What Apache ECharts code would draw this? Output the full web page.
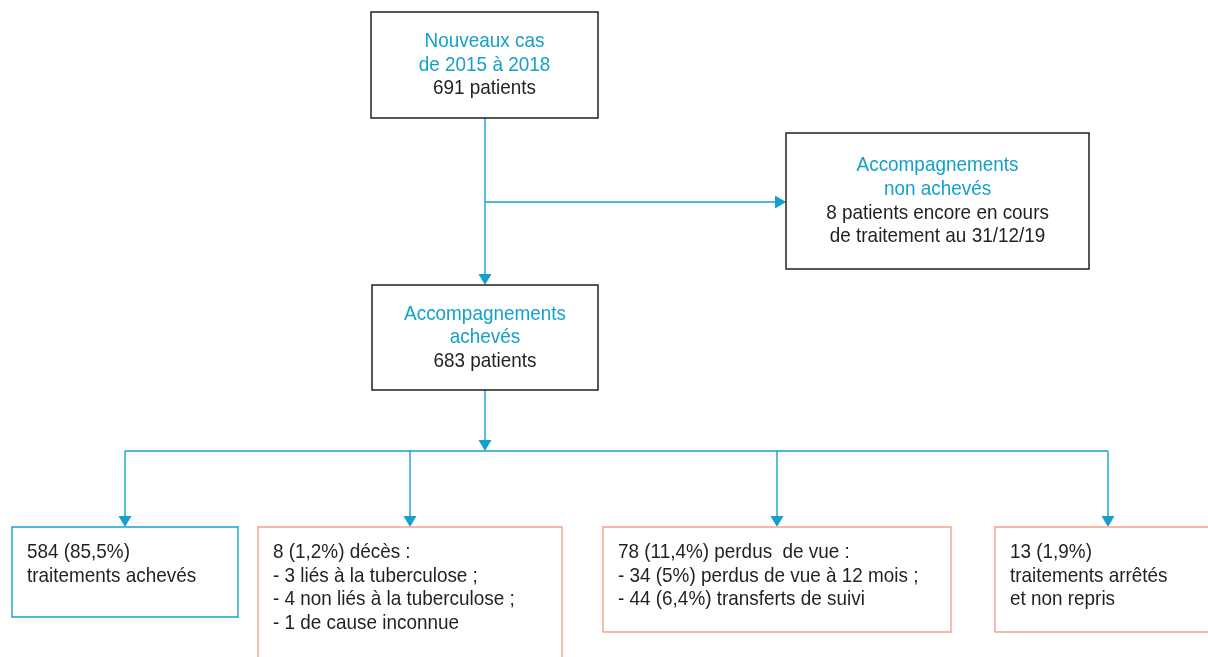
<!DOCTYPE html>
<html>
<head>
<meta charset="utf-8">
<script src="https://cdn.jsdelivr.net/npm/echarts@6/dist/echarts.min.js"></script>
<style>html,body{margin:0;padding:0;background:#fff}#c{width:1208px;height:657px}</style>
</head>
<body>
<div id="c"></div>
<script>
// ---- data ----
const nodeIds = ['nouveaux', 'nonAcheves', 'acheves', 'traites', 'deces', 'perdus', 'arretes'];
const nodeHeadings = [
  ['Nouveaux cas', 'de 2015 à 2018'],
  ['Accompagnements', 'non achevés'],
  ['Accompagnements', 'achevés'],
  [], [], [], []
];
const nodeDetails = [
  ['691 patients'],
  ['8 patients encore en cours', 'de traitement au 31/12/19'],
  ['683 patients'],
  ['584 (85,5%)', 'traitements achevés'],
  ['8 (1,2%) décès :', '- 3 liés à la tuberculose ;', '- 4 non liés à la tuberculose ;', '- 1 de cause inconnue'],
  ['78 (11,4%) perdus  de vue :', '- 34 (5%) perdus de vue à 12 mois ;', '- 44 (6,4%) transferts de suivi'],
  ['13 (1,9%)', 'traitements arrêtés', 'et non repris']
];
const nodeKinds = ['main', 'main', 'main', 'success', 'loss', 'loss', 'loss'];
const links = [
  ['nouveaux', 'acheves'],
  ['nouveaux', 'nonAcheves'],
  ['acheves', 'bus'],
  ['bus', 'traites'],
  ['bus', 'deces'],
  ['bus', 'perdus'],
  ['bus', 'arretes']
];

// ---- layout (positions & styles, separate from data) ----
const boxLayout = {
  nouveaux:   { x0: 371, y0: 12,  x1: 598,  y1: 118, align: 'center' },
  nonAcheves: { x0: 786, y0: 133, x1: 1089, y1: 269, align: 'center' },
  acheves:    { x0: 372, y0: 285, x1: 598,  y1: 390, align: 'center' },
  traites:    { x0: 12,  y0: 527, x1: 238,  y1: 617, align: 'left' },
  deces:      { x0: 258, y0: 527, x1: 562,  y1: 680, align: 'left' },
  perdus:     { x0: 603, y0: 527, x1: 951,  y1: 632, align: 'left' },
  arretes:    { x0: 995, y0: 527, x1: 1230, y1: 632, align: 'left' }
};
const routeLayout = [
  { pts: [[485, 118], [485, 285]], arrow: true },
  { pts: [[485, 202], [786, 202]], arrow: true },
  { pts: [[485, 390], [485, 451]], arrow: true },
  { pts: [[125, 451], [125, 527]], arrow: true, bus: [[125, 451], [1108, 451]] },
  { pts: [[410, 451], [410, 527]], arrow: true },
  { pts: [[777, 451], [777, 527]], arrow: true },
  { pts: [[1108, 451], [1108, 527]], arrow: true }
];
const BLUE = '#14a1c9';
const DARK = '#231f20';
const SALMON = '#f5a18b';
const FONT_FAMILY = "'Liberation Sans',Arial,sans-serif";
const FS = 21, LH = 23.6, SX = 0.9;
const borderColor = { main: DARK, success: BLUE, loss: SALMON };
const borderWidth = { main: 1.5, success: 1.4, loss: 1.4 };

const chart = echarts.init(document.getElementById('c'), null, { renderer: 'canvas' });

function renderBox(params, api) {
  const i = params.dataIndex;
  const id = nodeIds[i];
  const L = boxLayout[id];
  const p0 = api.coord([L.x0, L.y0]);
  const p1 = api.coord([L.x1, L.y1]);
  const children = [{
    type: 'rect',
    shape: { x: p0[0], y: p0[1], width: p1[0] - p0[0], height: p1[1] - p0[1] },
    style: { fill: '#fff', stroke: borderColor[nodeKinds[i]], lineWidth: borderWidth[nodeKinds[i]] }
  }];
  const lines = nodeHeadings[i].map(t => ({ t, c: BLUE })).concat(nodeDetails[i].map(t => ({ t, c: DARK })));
  let x, y, align;
  if (L.align === 'center') {
    x = (p0[0] + p1[0]) / 2;
    y = (p0[1] + p1[1]) / 2 - (lines.length - 1) * LH / 2;
    align = 'center';
  } else {
    x = p0[0] + 15;
    y = p0[1] + 25.5;
    align = 'left';
  }
  lines.forEach((ln, k) => {
    children.push({
      type: 'text',
      x: x, y: y + k * LH, scaleX: SX, scaleY: 1,
      style: {
        x: 0, y: 0, text: ln.t, fill: ln.c,
        font: FS + 'px ' + FONT_FAMILY, align: align, verticalAlign: 'middle'
      }
    });
  });
  return { type: 'group', children };
}

function arrowHead(tip, from) {
  const dx = tip[0] - from[0], dy = tip[1] - from[1];
  const len = Math.hypot(dx, dy) || 1;
  const ux = dx / len, uy = dy / len;
  const hl = 11, hw = 6.5;
  const bx = tip[0] - ux * hl, by = tip[1] - uy * hl;
  return [[tip[0], tip[1]], [bx - uy * hw, by + ux * hw], [bx + uy * hw, by - ux * hw]];
}

function renderLink(params, api) {
  const R = routeLayout[params.dataIndex];
  const children = [];
  if (R.bus) {
    children.push({
      type: 'polyline',
      shape: { points: R.bus.map(p => api.coord(p)) },
      style: { stroke: BLUE, lineWidth: 1.4, fill: null }
    });
  }
  const pts = R.pts.map(p => api.coord(p));
  const n = pts.length;
  const tip = pts[n - 1], prev = pts[n - 2];
  const dx = tip[0] - prev[0], dy = tip[1] - prev[1];
  const len = Math.hypot(dx, dy) || 1;
  const end = [tip[0] - dx / len * 9, tip[1] - dy / len * 9];
  children.push({
    type: 'polyline',
    shape: { points: pts.slice(0, n - 1).concat([end]) },
    style: { stroke: BLUE, lineWidth: 1.4, fill: null }
  });
  if (R.arrow) {
    children.push({ type: 'polygon', shape: { points: arrowHead(tip, prev) }, style: { fill: BLUE } });
  }
  return { type: 'group', children };
}

chart.setOption({
  animation: false,
  backgroundColor: '#fff',
  grid: { left: 0, right: 0, top: 0, bottom: 0 },
  xAxis: { type: 'value', min: 0, max: 1208, show: false },
  yAxis: { type: 'value', min: 0, max: 657, inverse: true, show: false },
  series: [
    {
      type: 'custom', name: 'links', coordinateSystem: 'cartesian2d',
      renderItem: renderLink, clip: false,
      data: links.map((l, i) => ({ value: [i], name: l[0] + '→' + l[1] })),
      z: 1
    },
    {
      type: 'custom', name: 'nodes', coordinateSystem: 'cartesian2d',
      renderItem: renderBox, clip: false,
      data: nodeIds.map((id, i) => ({ value: [i], name: id })),
      z: 2
    }
  ]
});
</script>
</body>
</html>
